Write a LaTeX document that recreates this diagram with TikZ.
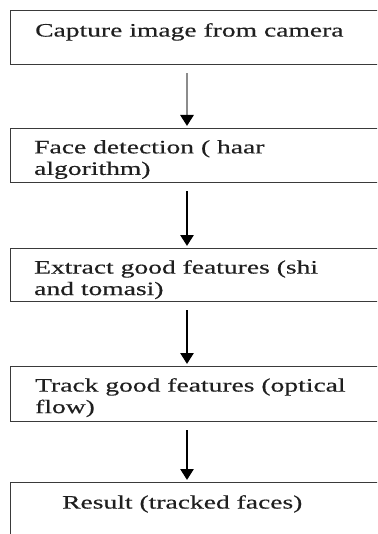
\documentclass[tikz,border=0pt]{standalone}
\usepackage{fontspec}
\setmainfont{Liberation Serif}[FakeStretch=1.45,FakeBold=0.4]
\usetikzlibrary{arrows.meta}
\definecolor{boxline}{HTML}{3A3A3A}
\definecolor{firstarrow}{HTML}{8C8C8C}
\tikzset{
  stepbox/.style={draw=boxline, line width=1.3pt, rectangle, minimum width=390pt, minimum height=#1, anchor=north west, inner sep=0pt},
  steptext/.style={anchor=north west, inner sep=0pt, align=left, font=\fontsize{19}{21.5}\selectfont, text=black!88},
  flowarrow/.style={line width=2.6pt, -{Triangle[width=13pt,length=11pt,color=black]}, shorten <=8pt, shorten >=2pt},
}
\begin{document}
\begin{tikzpicture}[x=1pt,y=1pt]
\useasboundingbox (0,0) rectangle (377,-534);
\clip (0,0) rectangle (377,-534);
\coordinate (ax) at (187,0);
\node[stepbox=54pt] (b1) at (10,-10) {};
\node[stepbox=54pt] (b2) at (10,-128) {};
\node[stepbox=53pt] (b3) at (10,-248) {};
\node[stepbox=55pt] (b4) at (10,-366) {};
\node[stepbox=70pt] (b5) at (10,-482) {};
\node[steptext] (t1) at (35,-23) {Capture image from camera};
\node[steptext] (t2) at (34,-140) {Face detection ( haar\\algorithm)};
\node[steptext] (t3) at (34,-260) {Extract good features (shi\\and tomasi)};
\node[steptext] (t4) at (35,-378) {Track good features (optical\\flow)};
\node[steptext] (t5) at (62,-495) {Result (tracked faces)};
\draw[flowarrow, color=firstarrow, -{Triangle[width=13pt,length=11pt,color=black]}] (ax |- b1.south) -- (ax |- b2.north);
\draw[flowarrow] (ax |- b2.south) -- (ax |- b3.north);
\draw[flowarrow] (ax |- b3.south) -- (ax |- b4.north);
\draw[flowarrow] (ax |- b4.south) -- (ax |- b5.north);
\end{tikzpicture}
\end{document}
